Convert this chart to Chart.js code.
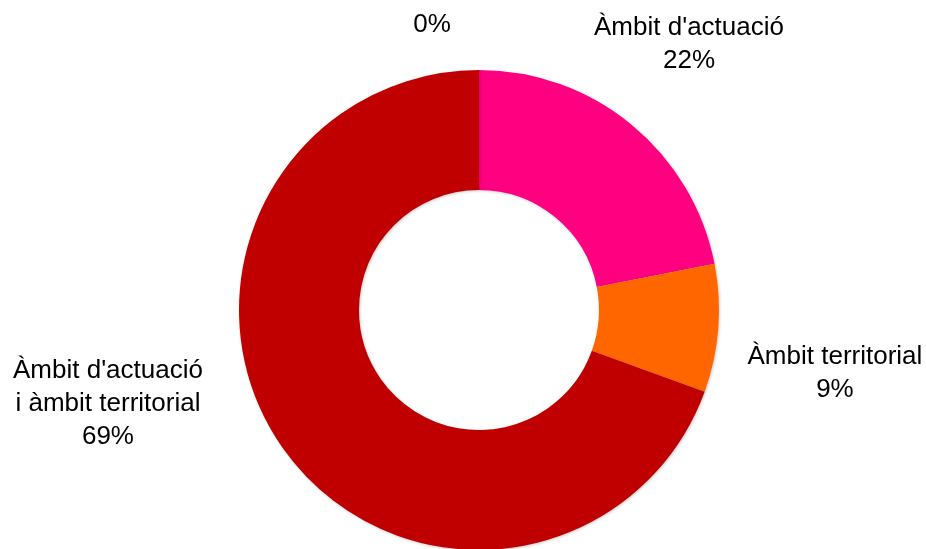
<!DOCTYPE html>
<html lang="ca">
<head>
<meta charset="UTF-8">
<title>Àmbit</title>
<script src="https://cdn.jsdelivr.net/npm/chart.js"></script>
<style>
  html, body { margin: 0; padding: 0; background: #fff; overflow: hidden; }
  .wrap { position: relative; width: 926px; height: 600px; }
</style>
</head>
<body>
<div class="wrap"><canvas id="donut"></canvas></div>
<script>
// dades
const categories = ["Àmbit d'actuació", "Àmbit territorial", "Àmbit d'actuació\ni àmbit territorial", ""];
const values = [21.9, 8.6, 69.4, 0];
const colors = ['#FF0080', '#FF6600', '#C00000', '#7F7F7F'];

// posició de les etiquetes respecte al centre (en radis)
const labelPos = [[0.875, -1.108], [1.483, 0.265], [-1.546, 0.392], [-0.196, -1.19]];

const labelPlugin = {
  id: 'outsideLabels',
  afterDatasetsDraw(chart) {
    const ctx = chart.ctx;
    const arcs = chart.getDatasetMeta(0).data;
    const total = values.reduce((a, b) => a + b, 0);
    ctx.save();
    ctx.font = '26px "Liberation Sans", Arial, sans-serif';
    ctx.fillStyle = '#000';
    ctx.textAlign = 'center';
    ctx.textBaseline = 'middle';
    arcs.forEach((arc, i) => {
      const r = arc.outerRadius;
      const cx = arc.x + labelPos[i][0] * r;
      const cy = arc.y + labelPos[i][1] * r;
      const lines = categories[i] ? categories[i].split('\n') : [];
      lines.push(Math.round(values[i] / total * 100) + '%');
      const lh = 33;
      const top = cy - (lines.length - 1) * lh / 2;
      lines.forEach((t, k) => ctx.fillText(t, cx, top + k * lh));
    });
    ctx.restore();
  }
};

const shadowPlugin = {
  id: 'ringShadow',
  beforeDatasetDraw(chart) {
    const ctx = chart.ctx;
    ctx.save();
    ctx.shadowColor = 'rgba(0,0,0,0.2)';
    ctx.shadowBlur = 3;
    ctx.shadowOffsetX = 1;
    ctx.shadowOffsetY = 1;
  },
  afterDatasetDraw(chart) {
    chart.ctx.restore();
  }
};

new Chart(document.getElementById('donut'), {
  type: 'doughnut',
  data: {
    labels: categories,
    datasets: [{
      data: values,
      backgroundColor: colors,
      borderWidth: 0
    }]
  },
  options: {
    responsive: true,
    maintainAspectRatio: false,
    animation: false,
    cutout: '50%',
    layout: { padding: { left: 239, right: 207, top: 70, bottom: 50 } },
    plugins: {
      legend: { display: false },
      tooltip: { enabled: false }
    }
  },
  plugins: [shadowPlugin, labelPlugin]
});
</script>
</body>
</html>
